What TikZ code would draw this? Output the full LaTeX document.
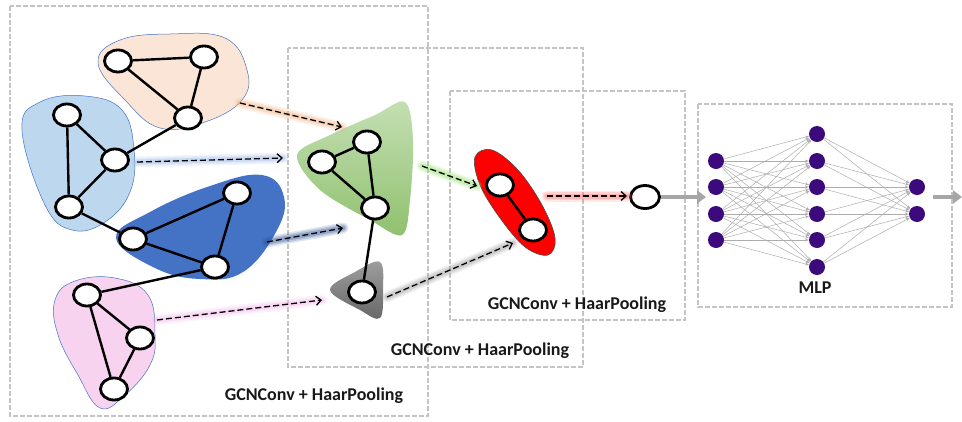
\documentclass[tikz,border=0pt]{standalone}
\usepackage{fontspec}
\setmainfont{Carlito}
\usetikzlibrary{arrows.meta,shapes.geometric}
\definecolor{boxgray}{HTML}{C4C4C4}
\definecolor{borange}{HTML}{FBE5D6}
\definecolor{blblue}{HTML}{BDD7EE}
\definecolor{bdblue}{HTML}{4472C4}
\definecolor{bpink}{HTML}{F8D3F0}
\definecolor{bgreenA}{HTML}{C5E0B4}
\definecolor{bgreenB}{HTML}{8FC06E}
\definecolor{bred}{HTML}{FF0000}
\definecolor{edgeblue}{HTML}{4472C4}
\definecolor{mlppurple}{HTML}{3D0A7E}
\definecolor{thickgray}{HTML}{A6A6A6}
\definecolor{glowor}{HTML}{F4B183}
\definecolor{glowlb}{HTML}{9DB9E8}
\definecolor{glowdb}{HTML}{2F5597}
\definecolor{glowpk}{HTML}{F2B8EA}
\definecolor{glowgr}{HTML}{92E06A}
\definecolor{glowgy}{HTML}{A0A0A0}
\definecolor{glowrd}{HTML}{FF7070}
\newcommand{\glowline}[3]{%
  \draw[line width=11pt, opacity=0.15, draw=#1, line cap=round] (#2) -- (#3);
  \draw[line width=8pt, opacity=0.2, draw=#1, line cap=round] (#2) -- (#3);
  \draw[line width=5pt, opacity=0.3, draw=#1, line cap=round] (#2) -- (#3);}
\begin{document}
\begin{tikzpicture}[x=1pt,y=-1pt,
  gn/.style={ellipse, draw=black, line width=2.8pt, fill=white, minimum width=27pt, minimum height=22pt, inner sep=0pt},
  ge/.style={line width=2.4pt, black},
  dbox/.style={draw=boxgray, line width=2.2pt, dash pattern=on 5pt off 2pt},
  flow/.style={dash pattern=on 6pt off 3pt, line width=1.3pt, -{Straight Barb[length=5pt,width=9pt]}},
  mn/.style={circle, fill=mlppurple, minimum size=16pt, inner sep=0pt},
  me/.style={draw=gray!65, line width=0.5pt, -{Stealth[length=4pt,width=3pt]}},
  lbl/.style={font=\bfseries\fontsize{18}{21}\selectfont, text=black!90},
  thick arrow/.style={draw=thickgray, line width=3.5pt, -{Triangle[length=9pt,width=13pt]}}
]
\useasboundingbox (0,0) rectangle (962,421);

% dashed boxes
\draw[dbox] (10,6) rectangle (428,416);
\draw[dbox] (288,48) rectangle (583,367);
\draw[dbox] (450,91) rectangle (685,320);
\draw[dbox] (698,104) rectangle (952,307);

% blobs
\fill[borange, draw=edgeblue, line width=0.5pt] plot[smooth cycle, tension=0.7] coordinates
  {(98,63) (120,40) (170,34) (225,38) (247,70) (242,100) (205,122) (160,128) (125,100)};
\fill[blblue, draw=edgeblue, line width=0.5pt] plot[smooth cycle, tension=0.7] coordinates
  {(22,130) (40,102) (85,96) (122,110) (134,150) (130,192) (105,222) (72,230) (45,205)};
\fill[bdblue] plot[smooth cycle, tension=0.7] coordinates
  {(116,238) (150,212) (210,186) (262,175) (284,197) (276,232) (243,272) (200,279) (155,268)};
\fill[bpink, draw=edgeblue, line width=0.5pt] plot[smooth cycle, tension=0.7] coordinates
  {(55,300) (75,281) (115,278) (148,295) (155,335) (150,365) (125,395) (100,408) (78,375) (58,335)};
\shade[top color=bgreenA, bottom color=bgreenB] plot[smooth cycle, tension=0.55] coordinates
  {(297,155) (330,135) (375,115) (405,102) (413,140) (410,200) (402,235) (370,220) (320,190)};
\shade[top color=gray!75, bottom color=black!60] plot[smooth cycle, tension=0.6] coordinates
  {(330,290) (355,272) (380,262) (383,290) (380,318) (360,310)};
\fill[bred, draw=black!70, line width=0.6pt] plot[smooth cycle, tension=0.6] coordinates
  {(475,157) (492,150) (518,170) (542,205) (555,238) (548,255) (525,247) (500,218) (480,185)};

% graph nodes
\node[gn] (o1) at (118,61) {};
\node[gn] (o2) at (204,57) {};
\node[gn] (o3) at (188,118) {};
\node[gn] (b1) at (67,115) {};
\node[gn] (b2) at (115,160) {};
\node[gn] (b3) at (69,207) {};
\node[gn] (d1) at (237,193) {};
\node[gn] (d2) at (133,239) {};
\node[gn] (d3) at (215,267) {};
\node[gn] (p1) at (87,295) {};
\node[gn] (p2) at (140,338) {};
\node[gn] (p3) at (114,389) {};
\node[gn] (g1) at (322,162) {};
\node[gn] (g2) at (367,142) {};
\node[gn] (g3) at (375,208) {};
\node[gn] (k1) at (362,292) {};
\node[gn] (r1) at (500,185) {};
\node[gn] (r2) at (533,230) {};
\node[gn, minimum width=29pt, minimum height=23pt] (out) at (645,197) {};

% graph edges
\draw[ge] (o1) -- (o2); \draw[ge] (o1) -- (o3); \draw[ge] (o2) -- (o3);
\draw[ge] (o3) -- (b2);
\draw[ge] (b1) -- (b2); \draw[ge] (b1) -- (b3); \draw[ge] (b2) -- (b3);
\draw[ge] (b3) -- (d2);
\draw[ge] (d1) -- (d2); \draw[ge] (d1) -- (d3); \draw[ge] (d2) -- (d3);
\draw[ge] (d3) -- (p1);
\draw[ge] (p1) -- (p2); \draw[ge] (p1) -- (p3); \draw[ge] (p2) -- (p3);
\draw[ge] (g1) -- (g2); \draw[ge] (g1) -- (g3); \draw[ge] (g2) -- (g3);
\draw[ge] (g3) -- (k1);
\draw[ge] (r1) -- (r2);

% flow arrow endpoints
\coordinate (fo1) at (240,103); \coordinate (fo2) at (342,127);
\coordinate (fb1) at (137,162); \coordinate (fb2) at (283,158);
\coordinate (fd1) at (267,242); \coordinate (fd2) at (343,228);
\coordinate (fp1) at (157,320); \coordinate (fp2) at (322,300);
\coordinate (fg1) at (422,166); \coordinate (fg2) at (477,186);
\coordinate (fk1) at (387,297); \coordinate (fk2) at (513,243);
\coordinate (fr1) at (547,196); \coordinate (fr2) at (627,196);

\glowline{glowor}{fo1}{fo2}
\glowline{glowlb}{fb1}{fb2}
\glowline{glowdb}{fd1}{fd2}
\glowline{glowpk}{fp1}{fp2}
\glowline{glowgr}{fg1}{fg2}
\glowline{glowgy}{fk1}{fk2}
\glowline{glowrd}{fr1}{fr2}

\draw[flow] (fo1) -- (fo2);
\draw[flow] (fb1) -- (fb2);
\draw[flow] (fd1) -- (fd2);
\draw[flow] (fp1) -- (fp2);
\draw[flow] (fg1) -- (fg2);
\draw[flow] (fk1) -- (fk2);
\draw[flow] (fr1) -- (fr2);

% MLP
\foreach \i/\y in {1/161,2/187,3/214,4/240} \node[mn] (a\i) at (716,\y) {};
\foreach \i/\y in {1/134,2/161,3/187,4/214,5/240,6/267} \node[mn] (h\i) at (817,\y) {};
\foreach \i/\y in {1/187,2/214} \node[mn] (c\i) at (917,\y) {};
\foreach \i in {1,...,4} \foreach \j in {1,...,6} \draw[me] (a\i) -- (h\j);
\foreach \j in {1,...,6} \foreach \k in {1,2} \draw[me] (h\j) -- (c\k);

\coordinate (mlpin) at (706,197);
\coordinate (mlpout) at (962,197);
\coordinate (mlpoutstart) at (933,197);
\draw[thick arrow] (out) -- (mlpin);
\draw[thick arrow] (mlpoutstart) -- (mlpout);

% labels
\node[lbl] (l1) at (314,396) {GCNConv + HaarPooling};
\node[lbl] (l2) at (480,351) {GCNConv + HaarPooling};
\node[lbl] (l3) at (577,305) {GCNConv + HaarPooling};
\node[lbl] (l4) at (815,288) {MLP};
\end{tikzpicture}
\end{document}
